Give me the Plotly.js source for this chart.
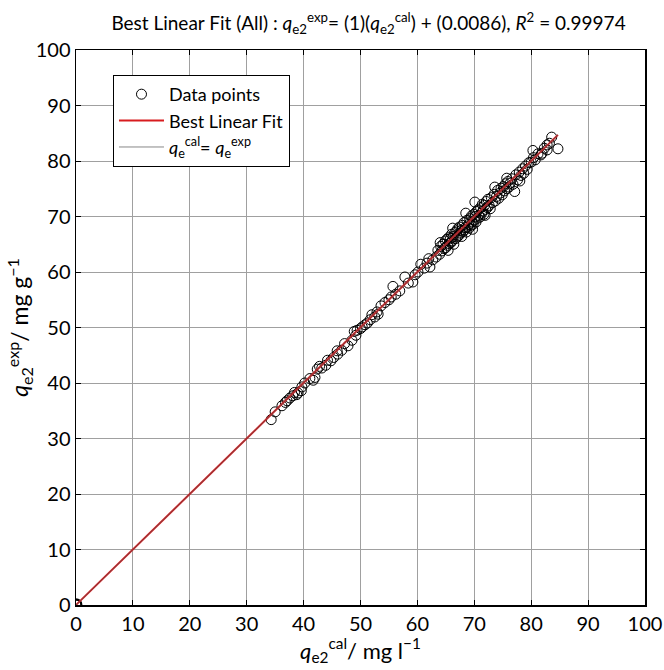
<!DOCTYPE html>
<html>
<head>
<meta charset="utf-8">
<script src="https://cdn.plot.ly/plotly-3.0.1.min.js"></script>
<style>html,body{margin:0;padding:0;background:#fff}#chart{width:664px;height:670px}</style>
</head>
<body>
<div id="chart"></div>
<script>
const qCal = [
  0, 0.1, 0.05, 0, 0.15, 0.08,
  34.3, 35.0, 36.2, 37.1, 37.6, 38.1, 38.8, 39.7, 39.6, 41.7, 42.0, 42.4, 43.2, 43.9, 44.8, 46.0,
  46.7, 47.8, 48.5, 49.2, 49.4, 50.3, 50.8, 51.7, 52.5, 52.9, 53.6, 55.0, 55.4, 55.7, 56.9, 57.8,
  59.2, 59.6, 60.1, 61.2, 61.7, 62.2, 62.7, 63.3,
  36.8, 38.4, 39.0, 40.2, 41.1, 42.8, 44.2, 45.3, 45.9, 47.2, 48.9, 50.0, 51.2, 52.0, 53.1, 54.3,
  56.2, 58.4, 60.6, 62.0,
  63.6, 63.9, 64.1, 64.3, 64.5, 64.7, 64.9, 65.0, 65.2, 65.3, 65.5, 65.6, 65.8, 65.9, 66.0, 66.1,
  66.3, 66.4, 66.6, 66.7, 66.9, 67.0, 67.1, 67.3, 67.4, 67.5, 67.7, 67.8, 67.9, 68.0, 68.2, 68.3,
  68.4, 68.6, 68.7, 68.8, 69.0, 69.1, 69.2, 69.4, 69.5, 69.6, 69.8, 69.9, 70.0, 70.2, 70.3, 70.4,
  70.6, 70.7, 70.8, 71.0, 71.1, 71.3, 71.4, 71.5, 71.7, 71.8, 72.0, 72.1, 72.3, 72.4, 72.6, 72.8,
  73.0, 73.2, 68.5, 66.2, 64.0, 69.7, 71.9, 65.4, 70.1, 77.1,
  73.5, 73.7, 73.9, 74.1, 74.3, 74.5, 74.7, 74.9, 75.1, 75.3, 75.5, 75.7, 75.9, 76.1, 76.3, 76.6,
  76.8, 77.3, 77.6, 77.9, 78.2, 78.5, 78.7, 79.0, 79.3, 79.6, 80.0, 80.4, 80.7, 81.2, 81.7, 82.3,
  82.8, 83.2, 83.6, 84.7, 73.6, 75.7, 78.0, 80.3, 82.8, 81.9
];
const qExp = [
  0, 0.05, 0.1, 0.02, 0.12, 0.2,
  33.4, 34.8, 35.9, 36.8, 37.3, 37.7, 37.9, 39.3, 38.6, 40.5, 41.0, 42.5, 42.7, 43.2, 44.0, 45.2,
  45.9, 46.7, 47.7, 48.6, 49.5, 50.1, 50.5, 51.4, 51.9, 52.8, 53.9, 55.0, 55.5, 57.4, 56.6, 59.1,
  58.2, 59.5, 60.0, 60.7, 61.6, 60.9, 62.2, 62.7,
  36.5, 38.3, 38.2, 40.0, 40.8, 43.0, 44.1, 44.6, 45.8, 47.1, 49.3, 49.8, 50.8, 52.3, 52.4, 54.5,
  56.0, 58.0, 61.4, 62.4,
  63.9, 63.2, 64.6, 63.8, 65.0, 64.2, 65.6, 64.4, 65.9, 64.8, 66.2, 65.1, 66.0, 65.3, 66.8, 65.6,
  66.4, 65.0, 67.1, 66.0, 67.4, 66.3, 67.8, 66.6, 68.1, 67.0, 67.5, 66.4, 68.4, 67.3, 68.9, 67.6,
  68.0, 67.2, 69.3, 68.1, 68.6, 67.9, 69.6, 68.4, 70.1, 69.0, 68.6, 70.4, 69.3, 70.0, 69.0, 70.9,
  69.7, 71.2, 70.2, 69.9, 71.6, 70.6, 72.2, 71.0, 70.4, 72.0, 71.3, 72.7, 71.6, 73.1, 72.0, 71.4,
  73.4, 72.5, 70.6, 67.9, 65.3, 67.7, 70.2, 63.9, 72.6, 74.5,
  74.0, 72.8, 73.6, 74.7, 73.3, 74.2, 75.1, 73.9, 75.4, 74.6, 75.9, 75.0, 76.3, 75.3, 76.0, 76.8,
  75.8, 77.5, 76.6, 78.0, 77.4, 78.6, 77.8, 79.1, 78.5, 79.7, 79.8, 80.6, 80.2, 81.3, 81.1, 82.3,
  82.0, 83.2, 84.3, 82.2, 75.3, 76.9, 76.4, 81.9, 82.9, 81.4
];
// best linear fit parameters (from title)
const fitSlope = 1;
const fitIntercept = 0.0086;
const xTicks = [0, 10, 20, 30, 40, 50, 60, 70, 80, 90, 100];
const yTicks = [0, 10, 20, 30, 40, 50, 60, 70, 80, 90, 100];

const sortedX = qCal.slice().sort((a, b) => a - b);
const fitY = sortedX.map(v => fitSlope * v + fitIntercept);
const xMin = sortedX[0], xMax = sortedX[sortedX.length - 1];

const FONT = 'Lato, "Noto Sans", sans-serif';

const traces = [
  {
    x: qCal, y: qExp, type: 'scatter', mode: 'markers', name: 'Data points',
    marker: {symbol: 'circle-open', size: 10, color: '#000', line: {width: 1, color: '#000'}}
  },
  {
    x: sortedX, y: fitY, type: 'scatter', mode: 'lines', name: 'Best Linear Fit',
    line: {color: '#d81c1f', width: 2}
  },
  {
    x: [xMin, xMax], y: [xMin, xMax], type: 'scatter', mode: 'lines',
    name: '<i>q</i><sub>e</sub><sup>cal</sup>= <i>q</i><sub>e</sub><sup>exp</sup>',
    line: {color: '#555', width: 0.7}
  }
];

const axisCommon = {
  range: [0, 100], showgrid: true, gridcolor: '#a0a0a0', gridwidth: 1,
  zeroline: false, showline: true, linecolor: '#000', linewidth: 1.5, mirror: 'ticks',
  ticks: 'inside', ticklen: 5, tickcolor: '#000', tickfont: {family: FONT, size: 20, color: '#000'}
};

const layout = {
  width: 664, height: 670,
  margin: {l: 76, r: 19, t: 50, b: 65},
  paper_bgcolor: '#fff', plot_bgcolor: '#fff',
  showlegend: true,
  title: {
    text: 'Best Linear Fit (All) : <i>q</i><sub>e2</sub><sup>exp</sup>= (1)(<i>q</i><sub>e2</sub><sup>cal</sup>) + (0.0086), <i>R</i><sup>2</sup> = 0.99974',
    font: {family: FONT, size: 19, color: '#000'}, x: 0.555, xanchor: 'center', y: 0.965, yanchor: 'middle'
  },
  xaxis: Object.assign({}, axisCommon, {
    tickvals: xTicks,
    title: {text: '<i>q</i><sub>e2</sub><sup>cal</sup>/ mg l<sup>−1</sup>', font: {family: FONT, size: 22, color: '#000'}, standoff: 6}
  }),
  yaxis: Object.assign({}, axisCommon, {
    tickvals: yTicks,
    title: {text: '<i>q</i><sub>e2</sub><sup>exp</sup>/ mg g<sup>−1</sup>', font: {family: FONT, size: 23, color: '#000'}, standoff: 0}
  }),
  legend: {
    x: 0.065, y: 0.955, xanchor: 'left', yanchor: 'top',
    bgcolor: '#fff', bordercolor: '#000', borderwidth: 1, itemwidth: 45,
    font: {family: FONT, size: 18, color: '#000'}, tracegroupgap: 0
  }
};

Plotly.newPlot('chart', traces, layout, {displayModeBar: false, staticPlot: true});
</script>
</body>
</html>
